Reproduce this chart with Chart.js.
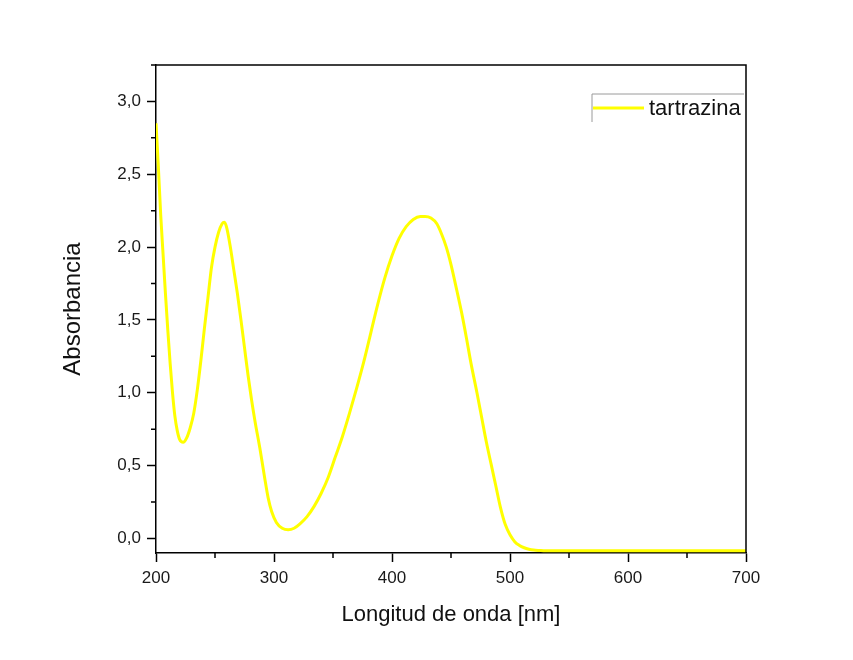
<!DOCTYPE html>
<html>
<head>
<meta charset="utf-8">
<title>tartrazina</title>
<script src="https://cdn.jsdelivr.net/npm/chart.js@4/dist/chart.umd.min.js"></script>
<style>
    html, body { margin: 0; padding: 0; background: #ffffff; }
    #chartWrap { width: 853px; height: 660px; }
</style>
</head>
<body>
<div id="chartWrap"><canvas id="myChart" width="853" height="660"></canvas></div>
<script>
const wavelengths = [200, 202, 204, 206, 208, 210, 212, 214, 216, 218, 220, 223, 226, 229, 232, 235, 238, 241, 244, 247,
    250, 253, 256, 258, 260, 263, 266, 269, 272, 275, 278, 281, 284, 288, 292, 295, 298, 302, 307, 312,
    317, 322, 328, 334, 340, 346, 352, 358, 364, 370, 376, 382, 388, 394, 400, 406, 412, 418, 424, 428,
    433, 438, 442, 446, 450, 455, 459, 463, 467, 472, 476, 480, 484, 488, 492, 496, 500, 504, 508, 512,
    516, 520, 525, 530, 550, 600, 650, 700];
const absorbance = [2.85, 2.55, 2.22, 1.95, 1.68, 1.43, 1.20, 1.00, 0.84, 0.74, 0.68, 0.66, 0.69, 0.76, 0.86, 1.02, 1.22, 1.44, 1.65, 1.86,
    2.00, 2.10, 2.16, 2.17, 2.13, 2.00, 1.84, 1.68, 1.50, 1.31, 1.12, 0.95, 0.80, 0.62, 0.42, 0.28, 0.185, 0.11, 0.07, 0.06,
    0.07, 0.10, 0.15, 0.22, 0.31, 0.42, 0.56, 0.70, 0.86, 1.03, 1.21, 1.41, 1.61, 1.79, 1.94, 2.06, 2.14, 2.19, 2.21, 2.21,
    2.20, 2.16, 2.09, 2.00, 1.88, 1.70, 1.55, 1.38, 1.20, 1.00, 0.83, 0.66, 0.51, 0.36, 0.21, 0.095, 0.025, -0.022, -0.048, -0.064,
    -0.074, -0.080, -0.083, -0.085, -0.085, -0.085, -0.085, -0.085];
const xTicks = [200, 300, 400, 500, 600, 700];
const xMinorTicks = [250, 350, 450, 550, 650];
const yTicks = [0, 0.5, 1.0, 1.5, 2.0, 2.5, 3.0];
const yMinorTicks = [0.25, 0.75, 1.25, 1.75, 2.25, 2.75];
const seriesName = "tartrazina";

(function () {
    "use strict";

    var fontFamily = "'Liberation Sans', Arial, sans-serif";

    // frame on top / right, minor ticks, and the origin style legend
    var framePlugin = {
        id: "framePlugin",
        afterDraw: function (chart) {
            var ctx = chart.ctx;
            var area = chart.chartArea;
            var xs = chart.scales.x;
            var ys = chart.scales.y;

            ctx.save();
            ctx.strokeStyle = "#000000";
            ctx.lineWidth = 1.5;
            ctx.beginPath();
            ctx.moveTo(area.left - 5, area.top);
            ctx.lineTo(area.right, area.top);
            ctx.lineTo(area.right, area.bottom);
            ctx.stroke();

            ctx.beginPath();
            xMinorTicks.forEach(function (v) {
                var px = xs.getPixelForValue(v);
                ctx.moveTo(px, area.bottom);
                ctx.lineTo(px, area.bottom + 5);
            });
            yMinorTicks.forEach(function (v) {
                var py = ys.getPixelForValue(v);
                ctx.moveTo(area.left, py);
                ctx.lineTo(area.left - 5, py);
            });
            ctx.stroke();

            // legend
            var ds = chart.data.datasets[0];
            var lx = area.right - 154;
            var ly = area.top + 29;
            ctx.strokeStyle = "#9a9a9a";
            ctx.lineWidth = 1;
            ctx.beginPath();
            ctx.moveTo(lx, ly + 28);
            ctx.lineTo(lx, ly);
            ctx.lineTo(area.right - 2, ly);
            ctx.stroke();

            ctx.strokeStyle = ds.borderColor;
            ctx.lineWidth = ds.borderWidth;
            ctx.beginPath();
            ctx.moveTo(lx + 1, ly + 14);
            ctx.lineTo(lx + 52, ly + 14);
            ctx.stroke();

            ctx.fillStyle = "#111111";
            ctx.font = "22px " + fontFamily;
            ctx.textBaseline = "middle";
            ctx.textAlign = "left";
            ctx.fillText(ds.label, lx + 57, ly + 15);
            ctx.restore();
        }
    };

    var points = wavelengths.map(function (w, i) {
        return {x: w, y: absorbance[i]};
    });

    const ctx = document.getElementById("myChart");
    new Chart(ctx, {
        type: "scatter",
        data: {
            datasets: [
                {
                    label: seriesName,
                    data: points,
                    showLine: true,
                    borderColor: "#ffff00",
                    backgroundColor: "#ffff00",
                    borderWidth: 3,
                    pointRadius: 0,
                    cubicInterpolationMode: "monotone",
                },
            ],
        },
        options: {
            responsive: false,
            animation: false,
            layout: {
                padding: {top: 65, right: 107, bottom: 0, left: 0},
            },
            plugins: {
                legend: {display: false},
                tooltip: {enabled: false},
            },
            scales: {
                x: {
                    type: "linear",
                    min: 200,
                    max: 700,
                    afterBuildTicks: function (scale) {
                        scale.ticks = xTicks.map(function (v) { return {value: v}; });
                    },
                    afterFit: function (scale) { scale.height = 107; },
                    border: {display: true, color: "#000000", width: 1.5},
                    grid: {
                        drawOnChartArea: false,
                        drawTicks: true,
                        tickLength: 9,
                        tickColor: "#000000",
                        tickWidth: 1.5,
                    },
                    ticks: {
                        padding: 6,
                        color: "#1a1a1a",
                        font: {family: fontFamily, size: 17},
                        maxRotation: 0,
                    },
                    title: {
                        display: true,
                        text: "Longitud de onda [nm]",
                        color: "#111111",
                        font: {family: fontFamily, size: 22},
                        padding: {top: 32, bottom: 32},
                    },
                },
                y: {
                    type: "linear",
                    min: -0.1,
                    max: 3.25,
                    afterBuildTicks: function (scale) {
                        scale.ticks = yTicks.map(function (v) { return {value: v}; });
                    },
                    afterFit: function (scale) { scale.width = 156; },
                    border: {display: true, color: "#000000", width: 1.5},
                    grid: {
                        drawOnChartArea: false,
                        drawTicks: true,
                        tickLength: 9,
                        tickColor: "#000000",
                        tickWidth: 1.5,
                    },
                    ticks: {
                        padding: 6,
                        color: "#1a1a1a",
                        font: {family: fontFamily, size: 17},
                        callback: function (value) {
                            return value.toFixed(1).replace(".", ",");
                        },
                    },
                    title: {
                        display: true,
                        text: "Absorbancia",
                        color: "#111111",
                        font: {family: fontFamily, size: 24},
                        padding: {top: 59, bottom: 59},
                    },
                },
            },
        },
        plugins: [framePlugin],
    });
})();
</script>
</body>
</html>
